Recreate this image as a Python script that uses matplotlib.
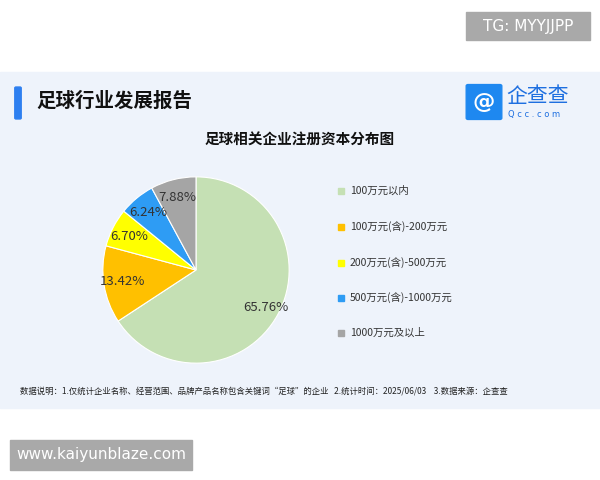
import matplotlib
matplotlib.use("Agg")
import matplotlib.pyplot as plt
from matplotlib.patches import Rectangle, FancyBboxPatch
import numpy as np

plt.rcParams['font.family'] = ['Noto Sans CJK SC', 'DejaVu Sans']

categories = ["100万元以内", "100万元(含)-200万元", "200万元(含)-500万元", "500万元(含)-1000万元", "1000万元及以上"]
values = [65.76, 13.42, 6.70, 6.24, 7.88]
colors = ["#c5e0b4", "#ffc000", "#ffff00", "#2e9cf4", "#a5a5a5"]

fig = plt.figure(figsize=(6, 4.8), dpi=100)
W, H = 600, 480
def fx(x): return x / W
def fy(y): return 1 - y / H

fig.patches.append(Rectangle((0, fy(408)), 1, (408 - 72) / H, transform=fig.transFigure, color="#eef3fb", zorder=0))
fig.patches.append(Rectangle((fx(466), fy(40)), 124 / W, 28 / H, transform=fig.transFigure, color="#a9a9a9", zorder=1))
fig.text(fx(528), fy(26), "TG: MYYJJPP", color="white", fontsize=11, ha="center", va="center", family="DejaVu Sans")
fig.patches.append(Rectangle((fx(10), fy(470)), 182 / W, 30 / H, transform=fig.transFigure, color="#a9a9a9", zorder=1))
fig.text(fx(101), fy(455), "www.kaiyunblaze.com", color="white", fontsize=11, ha="center", va="center", family="DejaVu Sans")

fig.patches.append(FancyBboxPatch((fx(16), fy(118)), 4 / W, 30 / H, boxstyle="round,pad=0.002", transform=fig.transFigure, color="#2d7ff0", zorder=2))
fig.text(fx(36), fy(101), "足球行业发展报告", fontsize=14, fontweight="bold", va="center", color="#111111")
fig.patches.append(FancyBboxPatch((fx(468), fy(118)), 32 / W, 32 / H, boxstyle="round,pad=0.003", transform=fig.transFigure, color="#1e88f0", zorder=2))
fig.text(fx(484), fy(102), "@", fontsize=16, color="white", ha="center", va="center", fontweight="bold", family="DejaVu Sans")
fig.text(fx(506), fy(96), "企查查", fontsize=15, color="#1e6fe0", va="center")
fig.text(fx(508), fy(114), "Q c c . c o m", fontsize=6, color="#1e6fe0", va="center", family="DejaVu Sans")
fig.text(fx(300), fy(140), "足球相关企业注册资本分布图", fontsize=10.5, fontweight="bold", ha="center", va="center", color="#111111")

ax = fig.add_axes([fx(101), fy(365), 190 / W, 190 / H])
ax.set_zorder(10)
wedges, texts = ax.pie(values, colors=colors, startangle=90, counterclock=False,
                       wedgeprops=dict(edgecolor="white", linewidth=0.8))
for w, v in zip(wedges, values):
    ang = np.deg2rad((w.theta1 + w.theta2) / 2)
    r = 0.85 if v > 20 else 0.8
    ax.text(r * np.cos(ang), r * np.sin(ang), f"{v:.2f}%", ha="center", va="center", fontsize=9.5, color="#333333")
ax.set_xlim(-1.02, 1.02); ax.set_ylim(-1.02, 1.02); ax.set_aspect("equal"); ax.axis("off")

ys = [191, 227, 263, 298, 333]
for c, lab, y in zip(colors, categories, ys):
    fig.patches.append(Rectangle((fx(338), fy(y + 3)), 6 / W, 6 / H, transform=fig.transFigure, color=c, zorder=2))
    fig.text(fx(350), fy(y), lab, fontsize=7.5, va="center", color="#333333")

fig.text(fx(20), fy(391), "数据说明：1.仅统计企业名称、经营范围、品牌产品名称包含关键词“足球”的企业   2.统计时间：2025/06/03    3.数据来源：企查查",
         fontsize=6, va="center", color="#222222")

fig.savefig("out.png", dpi=100)
